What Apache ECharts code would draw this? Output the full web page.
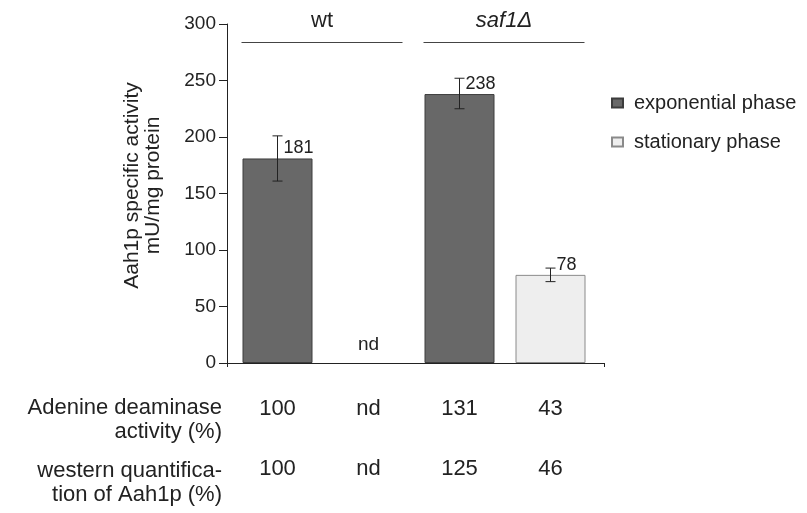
<!DOCTYPE html>
<html><head><meta charset="utf-8">
<script src="https://cdn.jsdelivr.net/npm/echarts@6/dist/echarts.min.js"></script>
<style>html,body{margin:0;padding:0;background:#fff}#c{width:807px;height:513px}</style>
</head><body><div id="c"></div>
<script>
// ---- data ----
const categories = ['wt exponential', 'wt stationary', 'saf1 exponential', 'saf1 stationary'];
const exponential = [181, null, 238, null];
const stationary = [null, null, null, 78];
const errLow = [161, null, 225, 72];
const errHigh = [201, null, 252, 84];
const ndLabels = [null, 'nd', null, null];
const adenineActivity = ['100', 'nd', '131', '43'];
const westernQuant = ['100', 'nd', '125', '46'];
const rowTitles = ['Adenine deaminase\nactivity (%)', 'western quantifica-\ntion of Aah1p (%)'];
const groupNames = ['wt', 'saf1\u0394'];
const groupStart = [0, 2];
const groupEnd = [1, 3];
const yMin = 0, yMax = 300, yStep = 50;

const FONT = "'Liberation Sans', Arial, Helvetica, sans-serif";
const TXT = '#222';

const chart = echarts.init(document.getElementById('c'));
chart.setOption({
  animation: false,
  backgroundColor: '#fff',
  textStyle: { fontFamily: FONT, color: TXT },
  grid: [
    { left: 232, right: 211, top: 24, bottom: 150 },
    { left: 227, right: 203, top: 24, bottom: 150 }
  ],
  legend: {
    orient: 'vertical', left: 606, top: 88, itemWidth: 11, itemHeight: 9, itemGap: 19,
    icon: 'rect',
    data: ['exponential phase', 'stationary phase'],
    textStyle: { fontSize: 20, color: TXT, fontFamily: FONT, padding: [0, 0, 0, 6] }
  },
  xAxis: [
    {
      type: 'category', data: categories, gridIndex: 0,
      axisLine: { show: false }, axisTick: { show: false },
      axisLabel: {
        interval: 0, margin: 16,
        formatter: (v, i) => `{r|${adenineActivity[i]}}\n{r|${westernQuant[i]}}`,
        rich: { r: { fontSize: 22, lineHeight: 60, color: TXT, fontFamily: FONT } }
      }
    },
    {
      type: 'value', gridIndex: 1, min: 0, max: 1, interval: 1,
      axisLine: { show: true, lineStyle: { color: TXT, width: 1 } },
      axisTick: { show: true, length: 4, lineStyle: { color: TXT } },
      axisLabel: { show: false }, splitLine: { show: false }
    }
  ],
  yAxis: [
    {
      type: 'value', gridIndex: 0, min: yMin, max: yMax, interval: yStep, offset: 5,
      name: 'Aah1p specific activity\nmU/mg protein',
      nameLocation: 'middle', nameGap: 63,
      nameTextStyle: { fontSize: 21, lineHeight: 21, color: TXT, fontFamily: FONT, padding: [0, 0, 0, 16] },
      axisLine: { show: true, lineStyle: { color: TXT, width: 1 } },
      axisTick: { show: true, inside: false, length: 8, lineStyle: { color: TXT } },
      axisLabel: { fontSize: 19, margin: 11, color: TXT, fontFamily: FONT },
      splitLine: { show: false }
    },
    { type: 'value', gridIndex: 1, min: 0, max: 1, show: false }
  ],
  graphic: rowTitles.map((t, i) => ({
    type: 'text', x: 222, y: [420, 483][i],
    style: { text: t, textAlign: 'right', textVerticalAlign: 'middle', font: `22px ${FONT}`, lineHeight: 24, fill: TXT }
  })),
  series: [
    {
      name: 'exponential phase', type: 'bar', data: exponential, barWidth: 70, barGap: '-100%',
      itemStyle: { color: '#686868', borderColor: '#3c3c3c', borderWidth: 1 },
      label: { show: true, position: 'top', distance: 1, align: 'left', offset: [6, 0], fontSize: 18, color: TXT, fontFamily: FONT }
    },
    {
      name: 'stationary phase', type: 'bar', data: stationary, barWidth: 70, barGap: '-100%',
      itemStyle: { color: '#eeeeee', borderColor: '#8a8a8a', borderWidth: 1 },
      label: { show: true, position: 'top', distance: 1, align: 'left', offset: [6, 0], fontSize: 18, color: TXT, fontFamily: FONT }
    },
    {
      name: 'nd', type: 'scatter', symbolSize: 0, silent: true,
      itemStyle: { opacity: 1 },
      data: categories.map((c, i) => ndLabels[i] ? [i, 0] : null).filter(Boolean),
      label: { show: true, position: 'top', distance: 9, formatter: (p) => ndLabels[p.value[0]], fontSize: 19, color: TXT, opacity: 1, fontFamily: FONT }
    },
    {
      name: 'error', type: 'custom', z: 10, silent: true,
      encode: { x: 0, y: [1, 2] },
      data: categories.map((c, i) => errLow[i] == null ? null : [i, errLow[i], errHigh[i]]).filter(Boolean),
      renderItem(params, api) {
        const x = api.value(0);
        const lo = api.coord([x, api.value(1)]);
        const hi = api.coord([x, api.value(2)]);
        const w = 5;
        const st = { stroke: '#222', lineWidth: 1 };
        return { type: 'group', children: [
          { type: 'line', shape: { x1: lo[0], y1: lo[1], x2: hi[0], y2: hi[1] }, style: st },
          { type: 'line', shape: { x1: lo[0] - w, y1: lo[1], x2: lo[0] + w, y2: lo[1] }, style: st },
          { type: 'line', shape: { x1: hi[0] - w, y1: hi[1], x2: hi[0] + w, y2: hi[1] }, style: st }
        ]};
      }
    },
    {
      name: 'groups', type: 'custom', silent: true, clip: false,
      encode: { x: [0, 1] },
      data: groupStart.map((s, i) => [s, groupEnd[i]]),
      renderItem(params, api) {
        const top = params.coordSys.y;
        const a = api.coord([api.value(0), yMax])[0] - 36;
        const b = api.coord([api.value(1), yMax])[0] + 34;
        const italic = params.dataIndex === 1;
        return { type: 'group', children: [
          { type: 'line', shape: { x1: a, y1: top + 18.5, x2: b, y2: top + 18.5 }, style: { stroke: '#444', lineWidth: 1 } },
          { type: 'text', style: { text: groupNames[params.dataIndex], x: (a + b) / 2, y: top - 3,
            textAlign: 'center', textVerticalAlign: 'middle',
            font: `${italic ? 'italic ' : ''}22px ${FONT}`, fill: TXT } }
        ]};
      }
    }
  ]
});
</script>
</body></html>
